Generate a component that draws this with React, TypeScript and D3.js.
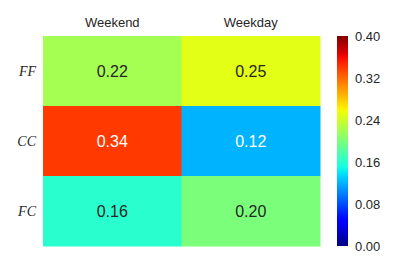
import React from 'react';
import * as d3 from 'd3';

const rows = ['FF', 'CC', 'FC'];
const cols = ['Weekend', 'Weekday'];
const values = [
  [0.22, 0.25],
  [0.34, 0.12],
  [0.16, 0.2],
];
const ticks = [0.0, 0.08, 0.16, 0.24, 0.32, 0.4];

// matplotlib "jet"
const jetR = d3.scaleLinear().domain([0, 0.35, 0.66, 0.89, 1]).range([0, 0, 1, 1, 0.5]).clamp(true);
const jetG = d3.scaleLinear().domain([0, 0.125, 0.375, 0.64, 0.91, 1]).range([0, 0, 1, 1, 0, 0]).clamp(true);
const jetB = d3.scaleLinear().domain([0, 0.11, 0.34, 0.65, 1]).range([0.5, 1, 1, 0, 0]).clamp(true);
const jet = (t: number) => d3.rgb(jetR(t) * 255, jetG(t) * 255, jetB(t) * 255).toString();

export default function App() {
  const width = 407;
  const height = 271;
  const left = 43, right = 320, top = 36, bottom = 246;

  const x = d3.scaleBand().domain(cols).range([left, right]);
  const y = d3.scaleBand().domain(rows).range([top, bottom]);
  const norm = d3.scaleLinear().domain([0, 0.4]).range([0, 1]);
  const cbY = d3.scaleLinear().domain([0, 0.4]).range([bottom, top]);
  const cbX = 337, cbW = 11;
  const stops = d3.range(0, 1.0001, 0.02);

  return (
    <svg width={width} height={height} style={{ position: 'absolute', left: 0, top: 0 }}
      fontFamily="'Liberation Sans', Arial, sans-serif">
      <defs>
        <linearGradient id="jet" x1="0" y1="1" x2="0" y2="0">
          {stops.map((s) => (
            <stop key={s} offset={s} stopColor={jet(s)} />
          ))}
        </linearGradient>
      </defs>
      {values.map((row, i) =>
        row.map((v, j) => {
          const t = norm(v);
          const dark = t > 0.78 || t < 0.32;
          return (
            <g key={`${i}-${j}`}>
              <rect x={x(cols[j])} y={y(rows[i])} width={x.bandwidth() + 0.5} height={y.bandwidth() + 0.5} fill={jet(t)} />
              <text x={x(cols[j])! + x.bandwidth() / 2} y={y(rows[i])! + y.bandwidth() / 2} dy="0.36em"
                textAnchor="middle" fontSize={16} fill={dark ? '#ffffff' : '#262626'}>
                {v.toFixed(2)}
              </text>
            </g>
          );
        })
      )}
      {cols.map((c) => (
        <text key={c} x={x(c)! + x.bandwidth() / 2} y={27} textAnchor="middle" fontSize={13} fill="#262626">{c}</text>
      ))}
      {rows.map((r) => (
        <text key={r} x={36} y={y(r)! + y.bandwidth() / 2} dy="0.35em" textAnchor="end" fontSize={14}
          fontStyle="italic" fontFamily="'Liberation Serif', 'Times New Roman', serif" fill="#262626">{r}</text>
      ))}
      <rect x={cbX} y={top} width={cbW} height={bottom - top} fill="url(#jet)" />
      {ticks.map((t) => (
        <text key={t} x={355} y={cbY(t)} dy="0.35em" fontSize={13} fill="#262626">{t.toFixed(2)}</text>
      ))}
    </svg>
  );
}
